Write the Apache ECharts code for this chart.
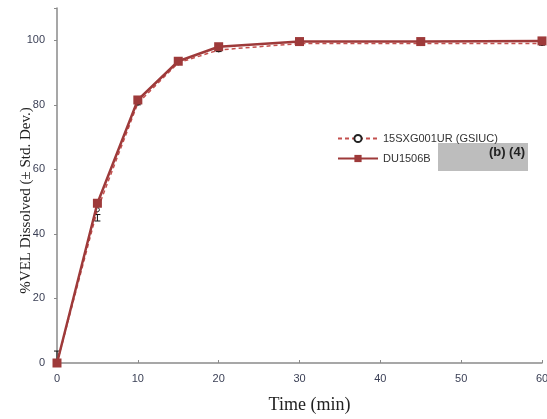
<!DOCTYPE html>
<html>
<head>
<meta charset="utf-8">
<script src="https://cdn.jsdelivr.net/npm/echarts@6/dist/echarts.min.js"></script>
<style>
  html, body { margin: 0; padding: 0; background: #fff; }
  #chart { width: 547px; height: 419px; }
</style>
</head>
<body>
<div id="chart"></div>
<script>
var times = [0, 5, 10, 15, 20, 30, 45, 60];
var gsiuc = [0, 47.5, 80.5, 93, 97, 99, 99, 99];
var gsiucLow = [0, 44, 80, 92.5, 96.5, 98.5, 98.5, 98.5];
var gsiucHigh = [3.7, 46, 81, 93.5, 97.5, 99.5, 99.5, 99.5];
var du1506b = [0, 49.5, 81.5, 93.5, 98, 99.6, 99.6, 99.8];
var xTicks = [0, 10, 20, 30, 40, 50, 60];
var yTicks = [0, 20, 40, 60, 80, 100];

var pairs = function (ys) {
    return times.map(function (t, i) { return [t, ys[i]]; });
};

var myChart = echarts.init(document.getElementById('chart'));

var option = {
    animation: false,
    grid: { left: 57, right: 5, top: 8, bottom: 56, outerBoundsMode: 'none', containLabel: false },
    legend: {
        orient: 'vertical',
        left: 332,
        top: 128,
        itemWidth: 40,
        itemHeight: 9,
        itemGap: 9,
        textStyle: { fontFamily: 'Liberation Sans', fontSize: 11, color: '#333' },
        data: ['15SXG001UR (GSIUC)', 'DU1506B']
    },
    xAxis: {
        type: 'value',
        min: 0, max: 60, interval: 10,
        name: 'Time (min)',
        nameLocation: 'middle',
        nameGap: 33,
        nameMoveOverlap: false,
        nameTextStyle: { fontFamily: 'Liberation Serif', fontSize: 18, color: '#222', padding: [0, 0, 0, 20] },
        axisLine: { lineStyle: { color: '#8a8a8a', width: 1.5 } },
        axisTick: { inside: true, length: 3, lineStyle: { color: '#8a8a8a' } },
        axisLabel: { fontFamily: 'Liberation Sans', fontSize: 11, color: '#3a3f55', margin: 10 },
        splitLine: { show: false }
    },
    yAxis: {
        type: 'value',
        min: 0, max: 110, interval: 20,
        name: '%VEL Dissolved (± Std. Dev.)',
        nameLocation: 'middle',
        nameGap: 23,
        nameMoveOverlap: false,
        nameTextStyle: { fontFamily: 'Liberation Serif', fontSize: 15, color: '#222', padding: [0, 30, 0, 0] },
        axisLine: { show: true, lineStyle: { color: '#8a8a8a', width: 1.5 } },
        axisTick: { show: true, length: 3, lineStyle: { color: '#8a8a8a' } },
        axisLabel: {
            fontFamily: 'Liberation Sans', fontSize: 11, color: '#3a3f55', margin: 12,
            formatter: function (v) { return yTicks.indexOf(v) >= 0 ? v : ''; }
        },
        splitLine: { show: false }
    },
    series: [
        {
            name: '15SXG001UR (GSIUC)',
            type: 'line',
            data: pairs(gsiuc),
            symbol: 'circle',
            symbolSize: 4,
            lineStyle: { color: '#c4504e', width: 1.5, type: [4, 3] },
            itemStyle: { color: '#fff', borderColor: '#222', borderWidth: 1 },
            z: 2
        },
        {
            name: 'errors',
            type: 'custom',
            data: times.map(function (t, i) { return [t, gsiucLow[i], gsiucHigh[i]]; }),
            renderItem: function (params, api) {
                var lo = api.coord([api.value(0), api.value(1)]);
                var hi = api.coord([api.value(0), api.value(2)]);
                var w = 3;
                var st = { stroke: '#111', lineWidth: 1 };
                return {
                    type: 'group',
                    children: [
                        { type: 'line', shape: { x1: lo[0], y1: lo[1], x2: hi[0], y2: hi[1] }, style: st },
                        { type: 'line', shape: { x1: lo[0] - w, y1: lo[1], x2: lo[0] + w, y2: lo[1] }, style: st },
                        { type: 'line', shape: { x1: hi[0] - w, y1: hi[1], x2: hi[0] + w, y2: hi[1] }, style: st }
                    ]
                };
            },
            z: 3
        },
        {
            name: 'DU1506B',
            type: 'line',
            data: pairs(du1506b),
            symbol: 'rect',
            symbolSize: 9,
            lineStyle: { color: '#9e3a3a', width: 2.5 },
            itemStyle: { color: '#9e3a3a' },
            z: 4
        }
    ],
    graphic: [
        {
            type: 'rect',
            left: 438, top: 143,
            shape: { width: 90, height: 28 },
            style: { fill: '#bdbdbd' }
        },
        {
            type: 'text',
            right: 22, top: 146,
            style: { text: '(b) (4)', fontFamily: 'Liberation Sans', fontWeight: 'bold', fontSize: 13, fill: '#222' }
        }
    ]
};

myChart.setOption(option);
</script>
</body>
</html>
